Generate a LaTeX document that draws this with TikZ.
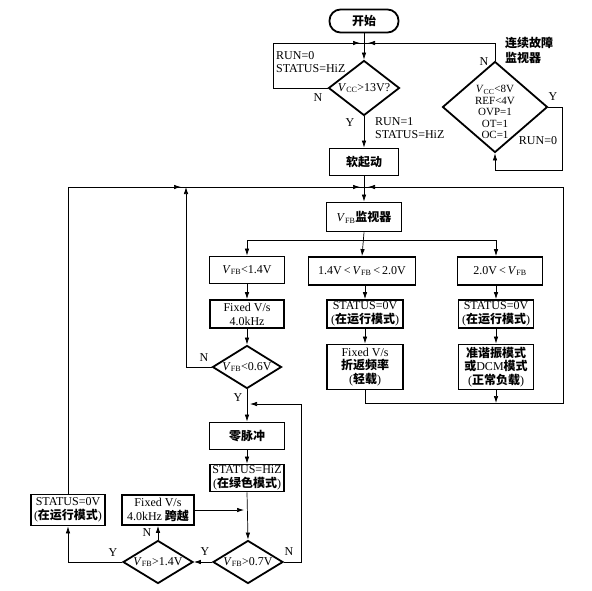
\documentclass[tikz,border=0pt]{standalone}
\usepackage{fontspec}
\setmainfont{Liberation Serif}
\newfontfamily\cjk{Noto Sans CJK SC}
\usetikzlibrary{arrows.meta,shapes.geometric}
\newcommand\zh[1]{{\cjk\bfseries #1}}
\newcommand\VFB{\textit{V}\textsubscript{FB}}
\newcommand\VCC{\textit{V}\textsubscript{CC}}
\begin{document}
\begin{tikzpicture}[x=1pt,y=-1pt,
  box/.style={draw,line width=1.8pt,align=center,inner sep=0.5pt,font=\fontsize{12}{14}\selectfont},
  dia/.style={draw,diamond,line width=1.8pt,inner sep=0pt},
  lbl/.style={font=\fontsize{12}{13}\selectfont,inner sep=0pt,align=center},
  conn/.style={line width=0.7pt},
  arr/.style={conn,-{Latex[length=7pt,width=4.5pt]}}]
\useasboundingbox (0,0) rectangle (592,590);
% top part
\node[box,rounded corners=11pt,minimum width=69pt,minimum height=23pt] (start) at (364,21) {\zh{开始}};
\coordinate (j1) at (364,43);
\node[dia,minimum width=71pt,minimum height=55pt] (d1) at (364,88) {};
\node[lbl] at (d1) {\VCC>13V?};
\node[box,minimum width=69pt,minimum height=27pt] (soft) at (364,162) {\zh{软起动}};
\node[dia,minimum width=105pt,minimum height=91pt] (f) at (495,107) {};
\node[lbl,font=\fontsize{11}{11.6}\selectfont] at (495,112) {\VCC<8V\\REF<4V\\OVP=1\\OT=1\\OC=1};
% middle
\coordinate (j2) at (364,187);
\coordinate (jn) at (186,187);
\node[box,minimum width=75pt,minimum height=29pt] (vmon) at (364,217) {\VFB\zh{监视器}};
\coordinate (j3) at (364,240);
\coordinate (cC) at (496,240);
\node[box,minimum width=75pt,minimum height=27pt] (A1) at (247,270) {\VFB<1.4V};
\node[box,minimum width=107pt,minimum height=28pt] (B1) at (362,271) {1.4V\,<\,\VFB\,<\,2.0V};
\node[box,minimum width=85pt,minimum height=28pt] (C1) at (500,271) {2.0V\,<\,\VFB};
\node[box,minimum width=74pt,minimum height=28pt] (A2) at (247,314) {Fixed V/s\\4.0kHz};
\node[box,minimum width=76pt,minimum height=28pt] (B2) at (365,314) {STATUS=0V\\(\zh{在运行模式})};
\node[box,minimum width=75pt,minimum height=28pt] (C2) at (496,314) {STATUS=0V\\(\zh{在运行模式})};
\node[dia,minimum width=69pt,minimum height=43pt] (A3) at (247,367) {};
\node[lbl] at (A3) {\VFB<0.6V};
\node[box,minimum width=76pt,minimum height=45pt,font=\fontsize{12}{13.5}\selectfont] (B3) at (365,367) {Fixed V/s\\\zh{折返频率}\\(\zh{轻载})};
\node[box,minimum width=75pt,minimum height=45pt,font=\fontsize{12}{13.5}\selectfont] (C3) at (496,367) {\zh{准谐振模式}\\\zh{或}DCM\zh{模式}\\(\zh{正常负载})};
\coordinate (rb) at (563,403);
% bottom
\coordinate (j4) at (247,404);
\node[box,minimum width=75pt,minimum height=27pt] (zero) at (247,436) {\zh{零脉冲}};
\node[box,minimum width=74pt,minimum height=27pt] (hiz) at (247,478) {STATUS=HiZ\\(\zh{在绿色模式})};
\node[box,minimum width=72pt,minimum height=30pt] (fix2) at (158,510) {Fixed V/s\\4.0kHz \zh{跨越}};
\node[box,minimum width=74pt,minimum height=31pt] (s0) at (68,510) {STATUS=0V\\(\zh{在运行模式})};
\coordinate (j5) at (247,510);
\node[dia,minimum width=70pt,minimum height=43pt] (d07) at (248,562) {};
\node[lbl] at (d07) {\VFB>0.7V};
\node[dia,minimum width=70pt,minimum height=43pt] (d14) at (158,562) {};
\node[lbl] at (d14) {\VFB>1.4V};
% labels
\node[lbl,anchor=north west,align=left] at (276,51) {RUN=0\\STATUS=HiZ};
\node[lbl] at (318,98) {N};
\node[lbl] at (350,123) {Y};
\node[lbl,anchor=north west,align=left] at (375,117) {RUN=1\\STATUS=HiZ};
\node[lbl,anchor=north west,align=left,font=\cjk\bfseries\fontsize{12}{15}\selectfont] at (505,37) {连续故障\\监视器};
\node[lbl] at (484,62) {N};
\node[lbl] at (553,97) {Y};
\node[lbl] at (538,141) {RUN=0};
\node[lbl] at (204,358) {N};
\node[lbl] at (238,398) {Y};
\node[lbl] at (205,552) {Y};
\node[lbl] at (289,552) {N};
\node[lbl] at (113,553) {Y};
\node[lbl] at (147,533) {N};
% connectors top
\draw[arr] (start.south) -- (d1.north);
\draw[conn] (d1.west) -- ++(-54,0) |- (j1);
\draw[arr] ([xshift=-20pt]j1) -- ([xshift=-4pt]j1);
\draw[conn] (f.north) |- (j1);
\draw[arr] ([xshift=20pt]j1) -- ([xshift=4pt]j1);
\draw[arr] (f.east) -- ++(14,0) -- ++(0,63) -| (f.south);
\draw[arr] (d1.south) -- (soft.north);
\draw[arr] (soft.south) -- (vmon.north);
% loops into j2
\draw[conn] (s0.north) |- (j2);
\draw[arr] (100,187) -- ([xshift=-5pt]jn);
\draw[arr] ([xshift=-40pt]j2) -- ([xshift=-4pt]j2);
\draw[arr] (A3.west) -| (jn);
\draw[conn] (B3.south) |- (rb) |- (j2);
\draw[arr] ([xshift=20pt]j2) -- ([xshift=4pt]j2);
\draw[arr] (C3.south) -- (C3.south |- rb);
% distribution
\draw[arr] (vmon.south) -- (B1.north);
\draw[arr] (j3) -| (A1.north);
\draw[arr] (j3) -- (cC) -- (cC |- C1.north);
\draw[arr] (A1) -- (A2);
\draw[arr] (A2) -- (A3.north);
\draw[arr] (B1.south -| B2) -- (B2);
\draw[arr] (B2) -- (B3);
\draw[arr] (C2.north |- C1.south) -- (C2);
\draw[arr] (C2) -- (C3);
% bottom connectors
\draw[arr] (A3.south) -- (zero.north);
\draw[arr] (zero) -- (hiz);
\draw[arr] (hiz.south) -- (d07.north);
\draw[arr] (fix2.east) -- ([xshift=-3pt]j5);
\draw[arr] (d07.west) -- (d14.east);
\draw[arr] (d07.east) -- ++(17,0) |- ([xshift=3pt]j4);
\draw[arr] (d14.north) -- (fix2.south);
\draw[arr] (d14.west) -| (s0.south);
\end{tikzpicture}
\end{document}
